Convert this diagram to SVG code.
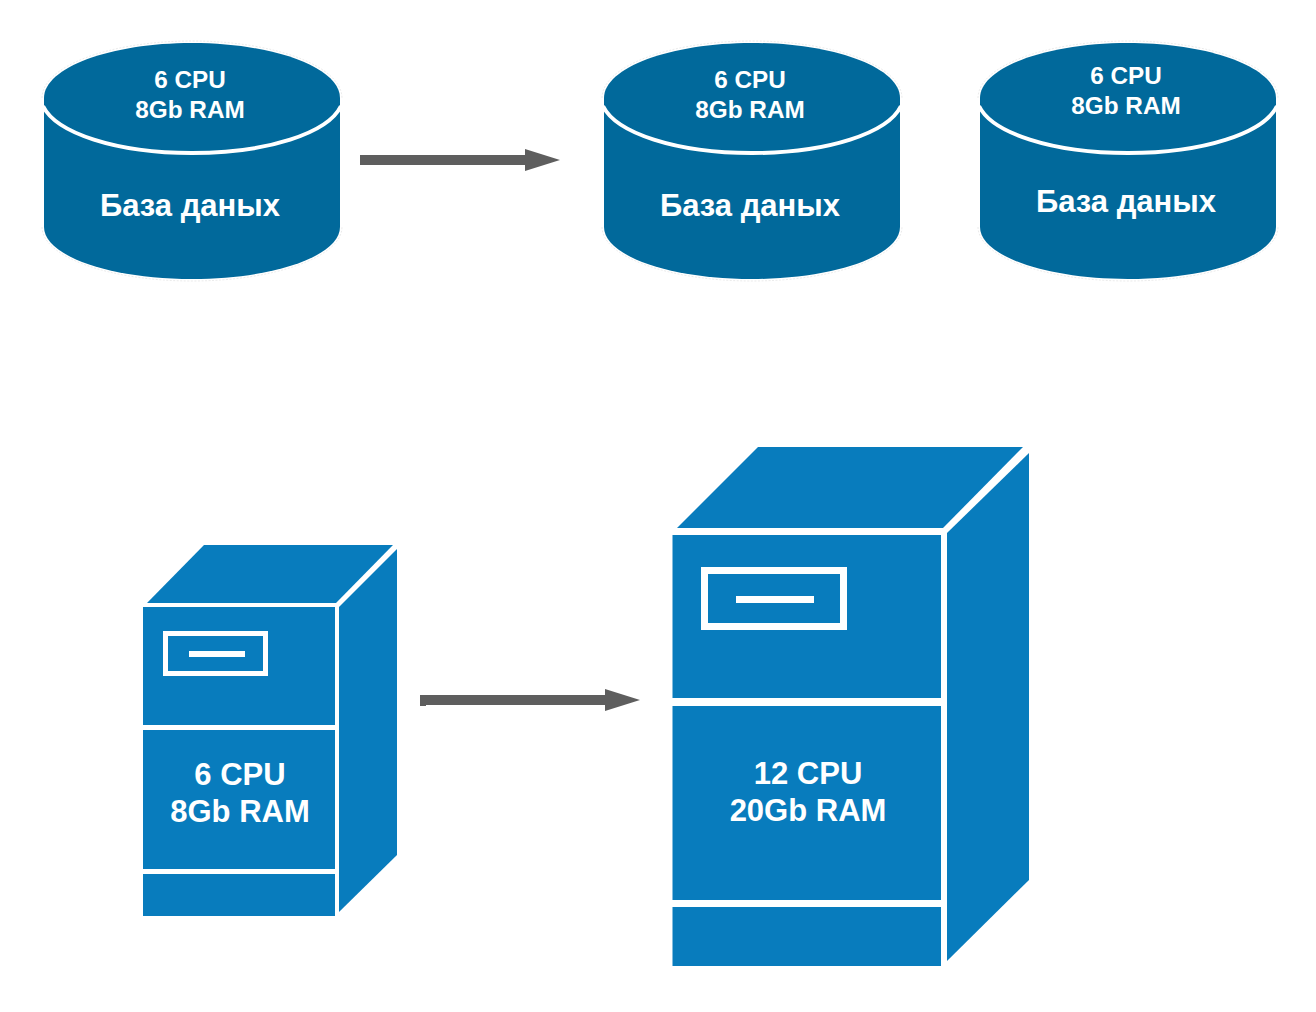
<svg xmlns="http://www.w3.org/2000/svg" width="1316" height="1012" viewBox="0 0 1316 1012">
<style>
text{font-family:"Liberation Sans",Arial,sans-serif;font-weight:700;fill:#fff;text-anchor:middle}
.s{font-size:24.300px}.d{font-size:31px}.m{font-size:31px}
.srv{fill:#087cbd}.w{fill:#fff}.arrow{fill:#5e5e5e}
.cyl{fill:#01699b}.rim{fill:none;stroke:#fff;stroke-width:4}
.halo{fill:none;stroke:#e2e2e2;stroke-width:.7;stroke-dasharray:2 1.500}
.slot{fill:none;stroke:#fff}
</style>
<defs>
<g id="cyl">
<path class="halo" d="M-2 55C-2 23 66 -2 148 -2S298 23 298 55M-2 184C-2 214 66 238 148 238S298 214 298 184"/>
<path class="cyl" d="M0 55C0 24.600 66.300 0 148 0S296 24.600 296 55V184C296 213 229.700 236 148 236S0 213 0 184Z"/>
<path class="rim" d="M-1 63C12 90 72 110 148 110S284 90 297 63"/>
</g>
</defs>
<rect width="1316" height="1012" fill="#fff"/>
<g id="connectors">
<path class="arrow" d="M360 155H525V149L560 160L525 171V165H360Z"/>
<path class="arrow" d="M420 695H605V689L640 700L605 711V705H426V706H420Z"/>
</g>
<g id="db1">
<use href="#cyl" x="44" y="43"/>
<text class="s" x="190" y="88">6 CPU</text>
<text class="s" x="190" y="118">8Gb RAM</text>
<text class="d" x="190" y="216">База даных</text>
</g>
<g id="db2">
<use href="#cyl" x="604" y="43"/>
<text class="s" x="750" y="88">6 CPU</text>
<text class="s" x="750" y="118">8Gb RAM</text>
<text class="d" x="750" y="216">База даных</text>
</g>
<g id="db3">
<use href="#cyl" x="980" y="43"/>
<text class="s" x="1126" y="84">6 CPU</text>
<text class="s" x="1126" y="114">8Gb RAM</text>
<text class="d" x="1126" y="212">База даных</text>
</g>
<g id="server-small">
<path class="srv" d="M204 545H393L336 603H147Z"/>
<path class="srv" d="M397 549V855L339 912V607Z"/>
<rect class="srv" x="143" y="607" width="192" height="118"/>
<rect class="srv" x="143" y="730" width="192" height="139"/>
<rect class="srv" x="143" y="874" width="192" height="42"/>
<rect class="slot" x="165.500" y="633.500" width="100" height="40" stroke-width="5"/>
<rect class="w" x="189" y="651" width="56" height="6"/>
<text class="m" x="240" y="785">6 CPU</text>
<text class="m" x="240" y="822">8Gb RAM</text>
</g>
<g id="server-large">
<path class="srv" d="M758 447H1023L943 528H677Z"/>
<path class="srv" d="M1029 453V880L947 961V533Z"/>
<rect class="srv" x="672.500" y="535" width="268.500" height="163"/>
<rect class="srv" x="672.500" y="706" width="268.500" height="194"/>
<rect class="srv" x="672.500" y="907" width="268.500" height="59"/>
<rect class="slot" x="704.500" y="570.500" width="139" height="56" stroke-width="7"/>
<rect class="w" x="736" y="596" width="78" height="7"/>
<text class="m" x="808" y="784">12 CPU</text>
<text class="m" x="808" y="821">20Gb RAM</text>
</g>
</svg>
